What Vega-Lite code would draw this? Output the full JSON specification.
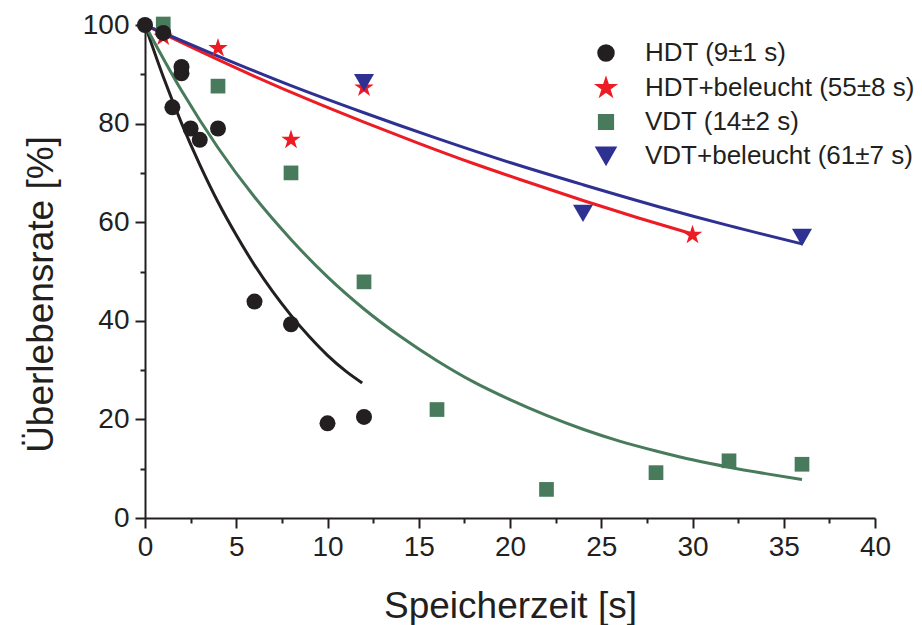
{
  "$schema": "https://vega.github.io/schema/vega-lite/v6.json",
  "width": 730,
  "height": 493,
  "autosize": {"type": "none"},
  "padding": {"left": 145, "top": 25, "right": 47, "bottom": 107},
  "background": "white",
  "config": {
    "view": {"stroke": null},
    "axis": {
      "grid": false,
      "domainColor": "#231f20",
      "domainWidth": 2,
      "tickColor": "#231f20",
      "tickWidth": 2,
      "labelFont": "Liberation Sans",
      "labelFontSize": 28,
      "labelColor": "#231f20",
      "titleFont": "Liberation Sans",
      "titleFontSize": 37,
      "titleFontWeight": "normal",
      "titleColor": "#231f20"
    },
    "legend": {
      "labelFont": "Liberation Sans",
      "labelFontSize": 26,
      "labelColor": "#231f20",
      "labelLimit": 400
    }
  },
  "datasets": {
    "points": [
      {"series": "HDT+beleucht (55±8 s)", "t": 1, "rate": 97.6},
      {"series": "HDT+beleucht (55±8 s)", "t": 4, "rate": 95.3},
      {"series": "HDT+beleucht (55±8 s)", "t": 8, "rate": 76.7},
      {"series": "HDT+beleucht (55±8 s)", "t": 12, "rate": 87.3},
      {"series": "HDT+beleucht (55±8 s)", "t": 30, "rate": 57.4},
      {"series": "VDT (14±2 s)", "t": 1, "rate": 100.2},
      {"series": "VDT (14±2 s)", "t": 4, "rate": 87.6},
      {"series": "VDT (14±2 s)", "t": 8, "rate": 70},
      {"series": "VDT (14±2 s)", "t": 12, "rate": 47.9},
      {"series": "VDT (14±2 s)", "t": 16, "rate": 22},
      {"series": "VDT (14±2 s)", "t": 22, "rate": 5.8},
      {"series": "VDT (14±2 s)", "t": 28, "rate": 9.2},
      {"series": "VDT (14±2 s)", "t": 32, "rate": 11.6},
      {"series": "VDT (14±2 s)", "t": 36, "rate": 10.9},
      {"series": "VDT+beleucht (61±7 s)", "t": 12, "rate": 88.3},
      {"series": "VDT+beleucht (61±7 s)", "t": 24, "rate": 61.8},
      {"series": "VDT+beleucht (61±7 s)", "t": 36, "rate": 56.9},
      {"series": "HDT (9±1 s)", "t": 0, "rate": 100},
      {"series": "HDT (9±1 s)", "t": 1, "rate": 98.4},
      {"series": "HDT (9±1 s)", "t": 1.5, "rate": 83.3},
      {"series": "HDT (9±1 s)", "t": 2, "rate": 91.5},
      {"series": "HDT (9±1 s)", "t": 2, "rate": 90.2},
      {"series": "HDT (9±1 s)", "t": 2.5, "rate": 79},
      {"series": "HDT (9±1 s)", "t": 3, "rate": 76.7},
      {"series": "HDT (9±1 s)", "t": 4, "rate": 79},
      {"series": "HDT (9±1 s)", "t": 6, "rate": 43.9},
      {"series": "HDT (9±1 s)", "t": 8, "rate": 39.3},
      {"series": "HDT (9±1 s)", "t": 10, "rate": 19.2},
      {"series": "HDT (9±1 s)", "t": 12, "rate": 20.5}
    ],
    "fits": [
      {"series": "HDT (9±1 s)", "t": 0, "rate": 100},
      {"series": "HDT (9±1 s)", "t": 1, "rate": 89.5},
      {"series": "HDT (9±1 s)", "t": 2, "rate": 80.1},
      {"series": "HDT (9±1 s)", "t": 3, "rate": 71.7},
      {"series": "HDT (9±1 s)", "t": 4, "rate": 64.1},
      {"series": "HDT (9±1 s)", "t": 5, "rate": 57.4},
      {"series": "HDT (9±1 s)", "t": 6, "rate": 51.3},
      {"series": "HDT (9±1 s)", "t": 7, "rate": 45.9},
      {"series": "HDT (9±1 s)", "t": 8, "rate": 41.1},
      {"series": "HDT (9±1 s)", "t": 9, "rate": 36.8},
      {"series": "HDT (9±1 s)", "t": 10, "rate": 33.0},
      {"series": "HDT (9±1 s)", "t": 11, "rate": 29.8},
      {"series": "HDT (9±1 s)", "t": 11.9, "rate": 27.4},
      {"series": "HDT+beleucht (55±8 s)", "t": 0, "rate": 100},
      {"series": "HDT+beleucht (55±8 s)", "t": 3, "rate": 94.7},
      {"series": "HDT+beleucht (55±8 s)", "t": 6, "rate": 89.6},
      {"series": "HDT+beleucht (55±8 s)", "t": 9, "rate": 84.8},
      {"series": "HDT+beleucht (55±8 s)", "t": 12, "rate": 80.3},
      {"series": "HDT+beleucht (55±8 s)", "t": 15, "rate": 76.0},
      {"series": "HDT+beleucht (55±8 s)", "t": 18, "rate": 71.9},
      {"series": "HDT+beleucht (55±8 s)", "t": 21, "rate": 68.1},
      {"series": "HDT+beleucht (55±8 s)", "t": 24, "rate": 64.4},
      {"series": "HDT+beleucht (55±8 s)", "t": 27, "rate": 60.9},
      {"series": "HDT+beleucht (55±8 s)", "t": 30, "rate": 57.6},
      {"series": "VDT (14±2 s)", "t": 0, "rate": 100},
      {"series": "VDT (14±2 s)", "t": 2, "rate": 86.7},
      {"series": "VDT (14±2 s)", "t": 4, "rate": 75.1},
      {"series": "VDT (14±2 s)", "t": 6, "rate": 65.1},
      {"series": "VDT (14±2 s)", "t": 8, "rate": 56.5},
      {"series": "VDT (14±2 s)", "t": 10, "rate": 48.9},
      {"series": "VDT (14±2 s)", "t": 12, "rate": 42.4},
      {"series": "VDT (14±2 s)", "t": 14, "rate": 36.8},
      {"series": "VDT (14±2 s)", "t": 16, "rate": 31.9},
      {"series": "VDT (14±2 s)", "t": 18, "rate": 27.6},
      {"series": "VDT (14±2 s)", "t": 20, "rate": 24.0},
      {"series": "VDT (14±2 s)", "t": 22, "rate": 20.8},
      {"series": "VDT (14±2 s)", "t": 24, "rate": 18.0},
      {"series": "VDT (14±2 s)", "t": 26, "rate": 15.6},
      {"series": "VDT (14±2 s)", "t": 28, "rate": 13.6},
      {"series": "VDT (14±2 s)", "t": 30, "rate": 11.8},
      {"series": "VDT (14±2 s)", "t": 32, "rate": 10.3},
      {"series": "VDT (14±2 s)", "t": 34, "rate": 9.0},
      {"series": "VDT (14±2 s)", "t": 36, "rate": 7.8},
      {"series": "VDT+beleucht (61±7 s)", "t": 0, "rate": 100},
      {"series": "VDT+beleucht (61±7 s)", "t": 4, "rate": 93.7},
      {"series": "VDT+beleucht (61±7 s)", "t": 8, "rate": 87.7},
      {"series": "VDT+beleucht (61±7 s)", "t": 12, "rate": 82.2},
      {"series": "VDT+beleucht (61±7 s)", "t": 16, "rate": 77.0},
      {"series": "VDT+beleucht (61±7 s)", "t": 20, "rate": 72.1},
      {"series": "VDT+beleucht (61±7 s)", "t": 24, "rate": 67.6},
      {"series": "VDT+beleucht (61±7 s)", "t": 28, "rate": 63.3},
      {"series": "VDT+beleucht (61±7 s)", "t": 32, "rate": 59.3},
      {"series": "VDT+beleucht (61±7 s)", "t": 36, "rate": 55.6}
    ]
  },
  "resolve": {"axis": {"x": "independent", "y": "independent"}},
  "layer": [
    {
      "data": {"name": "fits"},
      "mark": {"type": "line", "strokeWidth": 3, "interpolate": "monotone", "clip": true},
      "encoding": {
        "x": {
          "field": "t", "type": "quantitative",
          "scale": {"domain": [0, 40], "nice": false, "zero": false},
          "axis": {
            "orient": "bottom",
            "values": [0, 5, 10, 15, 20, 25, 30, 35, 40],
            "tickSize": 10,
            "labelPadding": 5,
            "labelFlush": false,
            "labelOverlap": false,
            "title": "Speicherzeit [s]",
            "titleBaseline": "alphabetic",
            "titleY": 99
          }
        },
        "y": {
          "field": "rate", "type": "quantitative",
          "scale": {"domain": [0, 100], "nice": false, "zero": false},
          "axis": {
            "orient": "left",
            "values": [0, 20, 40, 60, 80, 100],
            "tickSize": 10,
            "labelPadding": 6,
            "labelFlush": false,
            "labelOverlap": false,
            "title": "Überlebensrate [%]",
            "titleBaseline": "alphabetic",
            "titleAngle": 270,
            "titleX": -93,
            "titleY": 269
          }
        },
        "color": {
          "field": "series", "type": "nominal",
          "scale": {
            "domain": ["HDT (9±1 s)", "HDT+beleucht (55±8 s)", "VDT (14±2 s)", "VDT+beleucht (61±7 s)"],
            "range": ["#231f20", "#ed1c24", "#477b5b", "#2e3192"]
          },
          "legend": {
            "orient": "none",
            "legendX": 448,
            "legendY": 15,
            "title": null,
            "padding": 0,
            "labelOffset": 26,
            "rowPadding": 8
          }
        },
        "detail": {"field": "series"}
      }
    },
    {
      "data": {"name": "points"},
      "mark": {"type": "point", "filled": true, "opacity": 1, "strokeWidth": 0},
      "encoding": {
        "x": {
          "field": "t", "type": "quantitative",
          "axis": {
            "orient": "bottom",
            "values": [2.5, 7.5, 12.5, 17.5, 22.5, 27.5, 32.5, 37.5],
            "tickSize": 5,
            "labels": false,
            "domain": false,
            "title": null
          }
        },
        "y": {
          "field": "rate", "type": "quantitative",
          "axis": {
            "orient": "left",
            "values": [10, 30, 50, 70, 90],
            "tickSize": 5,
            "labels": false,
            "domain": false,
            "title": null
          }
        },
        "color": {
          "field": "series", "type": "nominal",
          "scale": {
            "domain": ["HDT (9±1 s)", "HDT+beleucht (55±8 s)", "VDT (14±2 s)", "VDT+beleucht (61±7 s)"],
            "range": ["#231f20", "#ed1c24", "#477b5b", "#2e3192"]
          },
          "legend": {
            "orient": "none",
            "legendX": 448,
            "legendY": 15,
            "title": null,
            "padding": 0,
            "labelOffset": 26,
            "rowPadding": 8
          }
        },
        "shape": {
          "field": "series", "type": "nominal",
          "scale": {
            "domain": ["HDT (9±1 s)", "HDT+beleucht (55±8 s)", "VDT (14±2 s)", "VDT+beleucht (61±7 s)"],
            "range": ["circle", "M0,-1L0.2245,-0.309L0.951,-0.309L0.363,0.118L0.588,0.809L0,0.382L-0.588,0.809L-0.363,0.118L-0.951,-0.309L-0.2245,-0.309Z", "square", "triangle-down"]
          },
          "legend": {
            "orient": "none",
            "legendX": 448,
            "legendY": 15,
            "title": null,
            "padding": 0,
            "labelOffset": 26,
            "rowPadding": 8
          }
        },
        "size": {
          "field": "series", "type": "nominal",
          "scale": {
            "type": "ordinal",
            "domain": ["HDT (9±1 s)", "HDT+beleucht (55±8 s)", "VDT (14±2 s)", "VDT+beleucht (61±7 s)"],
            "range": [256, 420, 216, 400]
          },
          "legend": {
            "orient": "none",
            "legendX": 448,
            "legendY": 15,
            "title": null,
            "padding": 0,
            "labelOffset": 26,
            "rowPadding": 8
          }
        }
      }
    }
  ]
}
